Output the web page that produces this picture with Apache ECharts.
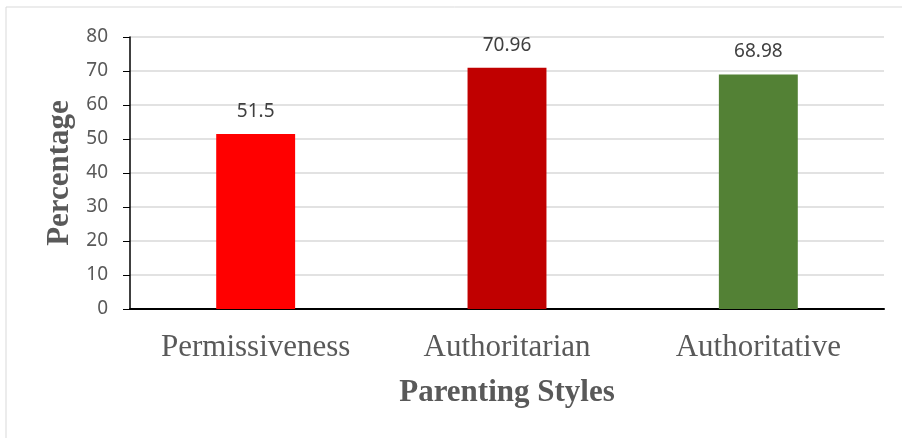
<!DOCTYPE html>
<html><head><meta charset="utf-8">
<script src="https://cdn.jsdelivr.net/npm/echarts@6/dist/echarts.min.js"></script>
<style>html,body{margin:0;padding:0;background:#fff}#c{width:902px;height:438px}</style>
</head><body><div id="c"></div>
<script>
var categories = ["Permissiveness", "Authoritarian", "Authoritative"];
var values = [51.5, 70.96, 68.98];
var colors = ["#ff0000", "#c00000", "#538135"];
var yTicks = [0, 10, 20, 30, 40, 50, 60, 70, 80];

var chart = echarts.init(document.getElementById('c'));
chart.setOption({
  animation: false,
  graphic: [{type: 'rect', shape: {x: 6, y: 7, width: 1000, height: 1000}, style: {fill: 'none', stroke: '#d9d9d9', lineWidth: 1}}],
  grid: {left: 130, right: 18, top: 37, bottom: 129, containLabel: false},
  xAxis: {
    type: 'category', data: categories,
    axisLine: {lineStyle: {color: '#000', width: 2}},
    axisTick: {show: false},
    axisLabel: {fontFamily: 'Liberation Serif', fontSize: 31, color: '#595959', margin: 23},
    name: 'Parenting Styles', nameLocation: 'middle', nameGap: 68,
    nameTextStyle: {fontFamily: 'Liberation Serif', fontSize: 31, fontWeight: 'bold', color: '#595959'}
  },
  yAxis: {
    type: 'value', min: yTicks[0], max: yTicks[yTicks.length - 1], interval: 10,
    axisLine: {show: true, lineStyle: {color: '#000', width: 1.5}},
    axisTick: {show: true, length: 7, lineStyle: {color: '#000'}},
    axisLabel: {fontFamily: 'Noto Sans', fontSize: 19, color: '#595959', margin: 22},
    splitLine: {lineStyle: {color: '#d9d9d9', width: 1.5}},
    name: 'Percentage', nameLocation: 'middle', nameGap: 55, nameRotate: 90,
    nameTextStyle: {fontFamily: 'Liberation Serif', fontSize: 31, fontWeight: 'bold', color: '#595959'}
  },
  series: [{
    type: 'bar', barWidth: '31.4%',
    data: values.map(function (v, i) { return {value: v, itemStyle: {color: colors[i]}}; }),
    label: {show: true, position: 'top', distance: 13, fontFamily: 'Noto Sans', fontSize: 19, color: '#404040'}
  }]
});
</script></body></html>
